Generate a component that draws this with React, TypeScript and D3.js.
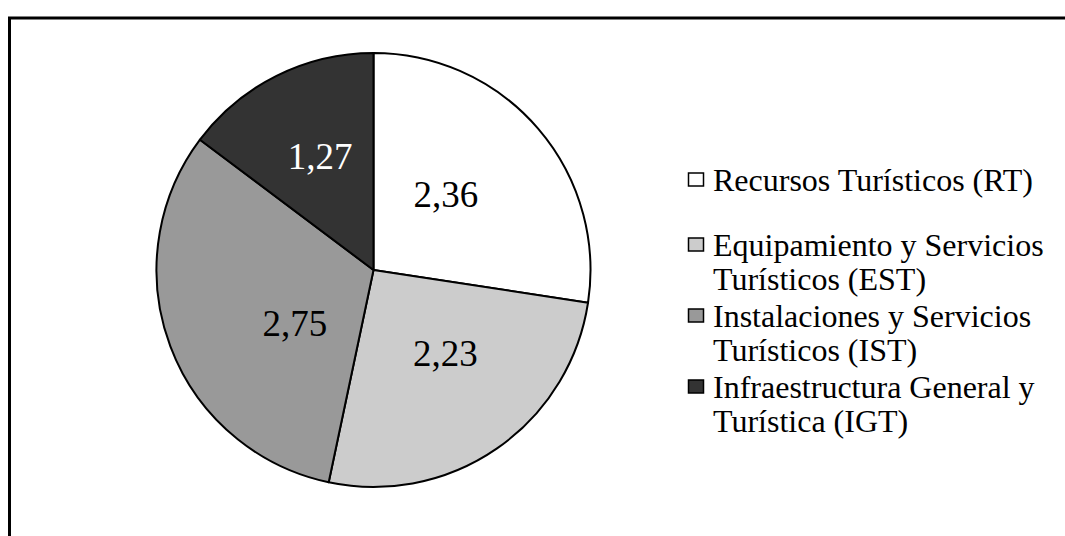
import React from "react";
import * as d3 from "d3";

const categories = [
  ["Recursos Turísticos (RT)"],
  ["Equipamiento y Servicios", "Turísticos (EST)"],
  ["Instalaciones y Servicios", "Turísticos (IST)"],
  ["Infraestructura General y", "Turística (IGT)"],
];
const values = [2.36, 2.23, 2.75, 1.27];
const labels = ["2,36", "2,23", "2,75", "1,27"];
const colors = ["#ffffff", "#cccccc", "#999999", "#333333"];
const labelColors = ["#000000", "#000000", "#000000", "#ffffff"];

const W = 1065;
const H = 536;
const cx = 373.5;
const cy = 270;
const R = 217;
const FONT = "'Liberation Serif', 'Times New Roman', serif";
// best-fit label nudges (layout only)
const labelNudge = [
  [-10, -5],
  [10, -6],
  [23, 15],
  [-5, -16],
];

export default function App() {
  const data = values.map((v, i) => ({ v, i }));
  const pie = d3.pie<{ v: number; i: number }>().sort(null).value((d) => d.v);
  const arcs = pie(data);
  const arc = d3.arc<d3.PieArcDatum<{ v: number; i: number }>>().innerRadius(0).outerRadius(R);
  const labelArc = d3.arc<d3.PieArcDatum<{ v: number; i: number }>>().innerRadius(R * 0.5).outerRadius(R * 0.5);

  const legendX = 688;
  const legendYs = [180, 245, 316, 387];
  const lineH = 34;

  return (
    <svg width={W} height={H} style={{ position: "absolute", left: 0, top: 0, background: "#fff" }} fontFamily={FONT}>
      <rect x={9.5} y={18} width={W + 50} height={H + 50} fill="#fff" stroke="#000" strokeWidth={3} />
      <g transform={`translate(${cx},${cy})`}>
        {arcs.map((a, k) => (
          <path key={k} d={arc(a) || ""} fill={colors[k]} stroke="#000" strokeWidth={2} strokeLinejoin="round" />
        ))}
        {arcs.map((a, k) => {
          const [x, y] = labelArc.centroid(a);
          return (
            <text
              key={k}
              x={x + labelNudge[k][0]}
              y={y + labelNudge[k][1]}
              textAnchor="middle"
              dominantBaseline="central"
              fontSize={37}
              fill={labelColors[k]}
            >
              {labels[k]}
            </text>
          );
        })}
      </g>
      {categories.map((lines, k) => (
        <g key={k}>
          <rect x={legendX + 0.5} y={legendYs[k] - 7} width={15} height={13} fill={colors[k]} stroke="#000" strokeWidth={1.5} />
          {lines.map((t, j) => (
            <text key={j} x={legendX + 25} y={legendYs[k] + j * lineH} dominantBaseline="central" fontSize={32} fill="#000">
              {t}
            </text>
          ))}
        </g>
      ))}
    </svg>
  );
}
